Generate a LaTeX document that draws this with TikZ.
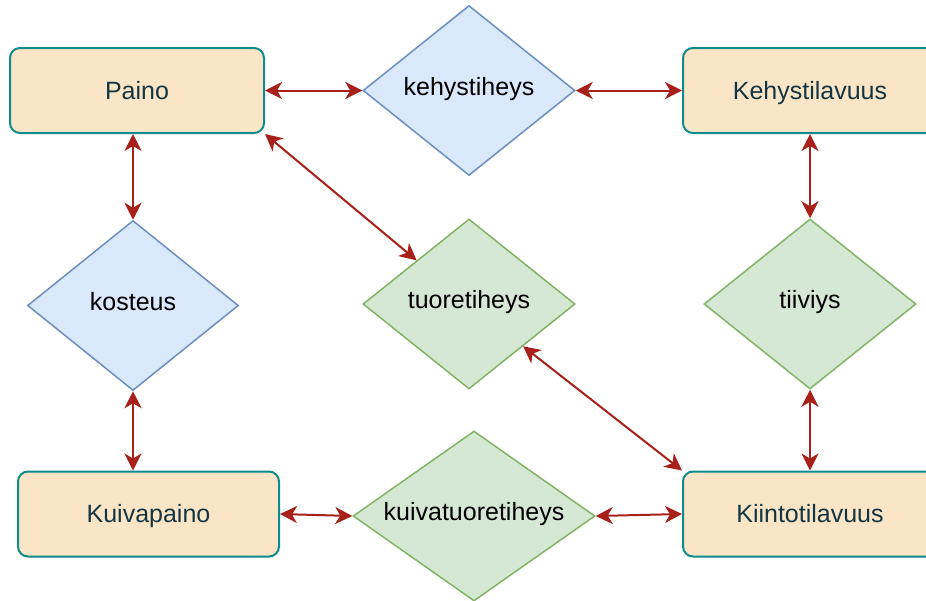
\documentclass[tikz,border=0pt]{standalone}
\usepackage{fontspec}
\setmainfont{Liberation Sans}
\usepackage{xcolor}
\definecolor{boxfill}{HTML}{FAE5C7}
\definecolor{boxline}{HTML}{0F8B8D}
\definecolor{boxtext}{HTML}{143642}
\definecolor{linkred}{HTML}{A8201A}
\definecolor{bluefill}{HTML}{DAE8FC}
\definecolor{blueline}{HTML}{6C8EBF}
\definecolor{greenfill}{HTML}{D5E8D4}
\definecolor{greenline}{HTML}{82B366}
\usepackage{tikz}
\usetikzlibrary{shapes.geometric, arrows.meta}
\tikzstyle{quantity} = [rectangle, draw=boxline, fill=boxfill, line width=2pt, rounded corners=10pt, minimum height=85pt, minimum width=254pt, inner sep=0pt, text=boxtext, text height=20pt, text depth=3pt, font=\fontsize{25}{30}\selectfont]
\tikzstyle{ratio} = [diamond, line width=1.5pt, minimum height=170pt, minimum width=212pt, aspect=1.25, inner sep=0pt, text height=16pt, text depth=7pt, font=\fontsize{25}{30}\selectfont]
\tikzstyle{link} = [<->, draw=linkred, line width=2pt]

\begin{document}
\begin{tikzpicture}[x=1pt, y=-1pt, >={Stealth[length=17pt, width=17pt, inset=5pt]}]

    \useasboundingbox (0,0) rectangle (926,600);

    \node (paino) [quantity] at (137,90.5) {Paino};
    \node (kehystilavuus) [quantity] at (810,90.5) {Kehystilavuus};
    \node (kuivapaino) [quantity, minimum width=261pt] at (148.5,514) {Kuivapaino};
    \node (kiintotilavuus) [quantity] at (810,514) {Kiintotilavuus};

    \node (kehystiheys) [ratio, fill=bluefill, draw=blueline] at (469,90.5) {kehystiheys};
    \node (kosteus) [ratio, fill=bluefill, draw=blueline, minimum width=211pt] at (133,305.5) {kosteus};
    \node (tuoretiheys) [ratio, fill=greenfill, draw=greenline] at (469,304) {tuoretiheys};
    \node (tiiviys) [ratio, fill=greenfill, draw=greenline] at (810,304) {tiiviys};
    \node (kuivatuoretiheys) [ratio, fill=greenfill, draw=greenline, minimum width=242pt, aspect=1.42] at (474,516) {kuivatuoretiheys};

    \draw[link] (paino) -- (kehystiheys);
    \draw[link] (kehystiheys) -- (kehystilavuus);
    \draw[link] (kosteus.north |- paino.south) -- (kosteus.north);
    \draw[link] (kosteus.south) -- (kosteus.south |- kuivapaino.north);
    \draw[link] (paino.south east) -- (tuoretiheys);
    \draw[link] (kiintotilavuus.north west) -- (tuoretiheys);
    \draw[link] (kehystilavuus.south) -- (tiiviys.north);
    \draw[link] (tiiviys.south) -- (kiintotilavuus.north);
    \draw[link] (kuivapaino.east) -- (kuivatuoretiheys.west);
    \draw[link] (kuivatuoretiheys.east) -- (kiintotilavuus.west);

\end{tikzpicture}
\end{document}
